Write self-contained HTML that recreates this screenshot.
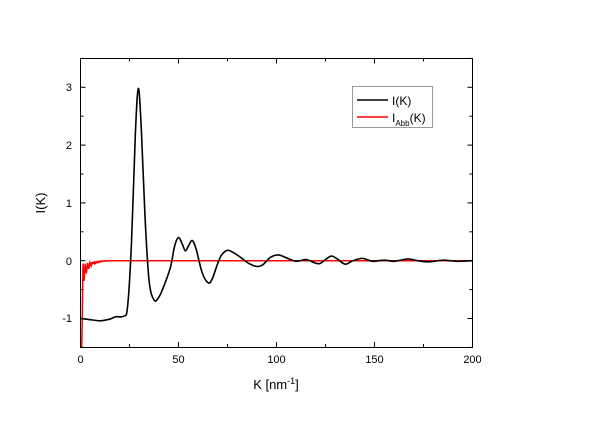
<!DOCTYPE html>
<html><head><meta charset="utf-8"><style>
body{margin:0;background:#fff;}
svg{display:block;font-family:"Liberation Sans",Arial,sans-serif;}
</style></head><body>
<svg id="s" width="600" height="421" viewBox="0 0 600 421" xmlns="http://www.w3.org/2000/svg">
<rect width="600" height="421" fill="#fff"/>
<g id="ticks" stroke="#000" stroke-width="1"></g>
<path id="red" fill="none" stroke="#ff0000" stroke-width="1.5"/>
<path id="blk" fill="none" stroke="#000" stroke-width="1.6"/>
<rect x="80.5" y="58.5" width="392" height="289" fill="none" stroke="#000" stroke-width="1"/>
<g font-size="11" fill="#000" text-anchor="middle">
<text x="80.5" y="363">0</text><text x="178.5" y="363">50</text><text x="276.5" y="363">100</text><text x="374.5" y="363">150</text><text x="472.5" y="363">200</text>
</g>
<g font-size="11" fill="#000" text-anchor="end">
<text x="72" y="91">3</text><text x="72" y="149">2</text><text x="72" y="207">1</text><text x="72" y="265">0</text><text x="72" y="322">-1</text>
</g>
<text x="276" y="389" font-size="13" text-anchor="middle">K [nm<tspan font-size="9" dy="-5">-1</tspan><tspan dy="5">]</tspan></text>
<text x="0" y="0" font-size="13" text-anchor="middle" transform="translate(45,203) rotate(-90)">I(K)</text>
<rect x="352.5" y="86.5" width="80" height="41" fill="#fff" stroke="#999"/>
<line x1="357" y1="100" x2="388" y2="100" stroke="#000" stroke-width="1.6"/>
<line x1="357" y1="117" x2="388" y2="117" stroke="#ff0000" stroke-width="1.6"/>
<text x="392" y="105" font-size="12">I(K)</text>
<text x="392" y="122" font-size="12">I<tspan font-size="8" dy="4">Abb</tspan><tspan dy="-4">(K)</tspan></text>
</svg>
<script>
var X=k=>80.5+k*1.96, Y=v=>260.7-v*57.8;
var t="";
for(var k=0;k<=200;k+=25){var x=X(k),L=(k%50==0)?5:3;t+=`<line x1="${x}" y1="347" x2="${x}" y2="${347-L}"/><line x1="${x}" y1="58.5" x2="${x}" y2="${58.5+L}"/>`;}
for(var v=-1.5;v<=3.5;v+=0.5){var y=Y(v),L=(Math.abs(v%1)<1e-6)?5:3;t+=`<line x1="80.5" y1="${y}" x2="${80.5+L}" y2="${y}"/><line x1="472.5" y1="${y}" x2="${472.5-L}" y2="${y}"/>`;}
document.getElementById("ticks").innerHTML=t;
var P=[[0,-1],[5,-1.02],[10,-1.04],[15,-1.01],[18,-0.97],[22,-0.96],[24,-0.8],[26,0.3],[28,2.2],[29.5,2.98],[31,2.3],[33,0.7],[35,-0.35],[37.5,-0.68],[40,-0.63],[43,-0.4],[46,-0.1],[48,0.25],[50,0.4],[52,0.28],[53.5,0.17],[55,0.25],[57,0.35],[59,0.2],[62,-0.2],[65,-0.38],[67,-0.33],[70,-0.05],[72,0.1],[75,0.18],[78,0.14],[82,0.05],[86,-0.05],[90,-0.1],[93,-0.07],[97,0.06],[101,0.1],[105,0.05],[110,-0.01],[115,0.02],[119,-0.03],[122,-0.05],[125,0.02],[128,0.08],[131,0.03],[135,-0.06],[139,0],[144,0.04],[149,-0.01],[155,0.01],[160,-0.01],[167,0.03],[172,0],[178,-0.02],[185,0.01],[192,-0.01],[200,0]];
var d="M"+X(P[0][0])+","+Y(P[0][1]);
for(var i=0;i<P.length-1;i++){var p0=P[Math.max(i-1,0)],p1=P[i],p2=P[i+1],p3=P[Math.min(i+2,P.length-1)];
var a=[X(p0[0]),Y(p0[1])],b=[X(p1[0]),Y(p1[1])],c=[X(p2[0]),Y(p2[1])],e=[X(p3[0]),Y(p3[1])];
d+=` C${b[0]+(c[0]-a[0])/6},${b[1]+(c[1]-a[1])/6} ${c[0]-(e[0]-b[0])/6},${c[1]-(e[1]-b[1])/6} ${c[0]},${c[1]}`;}
document.getElementById("blk").setAttribute("d",d);
var r="M"+X(0.6)+",347 L"+X(0.8)+","+Y(-1.2)+" L"+X(1.3)+","+Y(-0.05)+" L"+X(1.8)+","+Y(-0.35)+" L"+X(2.4)+","+Y(-0.05)+" L"+X(3)+","+Y(-0.22)+" L"+X(3.6)+","+Y(-0.04)+" L"+X(4.2)+","+Y(-0.14)+" L"+X(4.8)+","+Y(-0.03)+" L"+X(5.4)+","+Y(-0.09);
for(var k=5.5;k<=200;k+=0.2){var v=k<20?-0.08*Math.exp(-(k-5.5)/3)*Math.abs(Math.cos((k-5.5)*Math.PI/0.6)):0;r+=" L"+X(k).toFixed(2)+","+Y(v).toFixed(2);}
document.getElementById("red").setAttribute("d",r);
</script>
</body></html>
